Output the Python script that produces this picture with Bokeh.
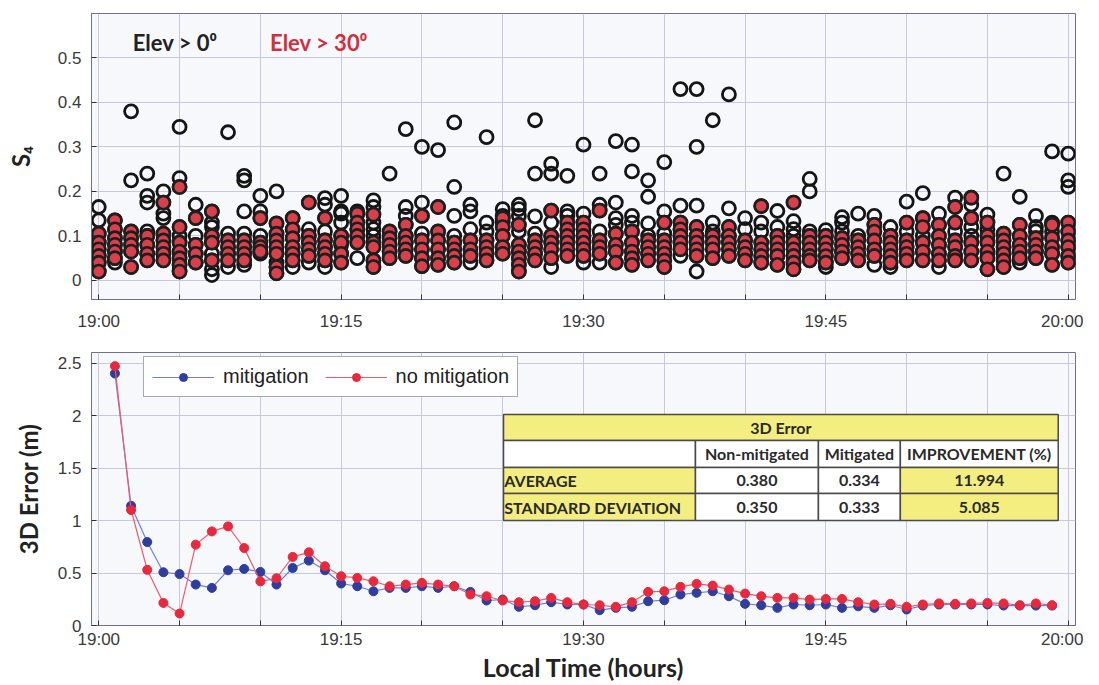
from bokeh.plotting import figure
from bokeh.models import FixedTicker, Label, Legend, LegendItem, ColumnDataSource
from bokeh.layouts import column
from bokeh.embed import file_html
from bokeh.resources import INLINE
from bokeh.core.properties import value

# ---------------- data: top panel (S4 per satellite, one column per minute) ----------------
S4_MINUTES = list(range(61))
# S4 of satellites seen only above 0 deg elevation (black open circles)
S4_ELEV0_ONLY = [
    [0.165, 0.135], [0.04], [0.38, 0.225], [0.24, 0.19, 0.175, 0.11], [0.2, 0.15, 0.14],
    [0.345, 0.23, 0.10], [0.17, 0.1], [0.13, 0.12, 0.06, 0.025, 0.012], [0.333, 0.105, 0.03],
    [0.235, 0.225, 0.155, 0.105, 0.035], [0.19, 0.155, 0.1, 0.06], [0.2, 0.04], [0.03],
    [0.115, 0.04], [0.185, 0.17, 0.11, 0.03], [0.19, 0.155, 0.15, 0.13, 0.08], [0.155, 0.05],
    [0.18, 0.165, 0.13, 0.115, 0.1], [0.24], [0.34, 0.165, 0.145], [0.3, 0.175, 0.105],
    [0.293], [0.355, 0.21, 0.145, 0.1], [0.17, 0.155, 0.115, 0.04], [0.322, 0.13, 0.11],
    [0.16, 0.145, 0.13], [0.17, 0.16, 0.145, 0.11], [0.36, 0.24, 0.144, 0.105],
    [0.262, 0.24, 0.13, 0.03], [0.235, 0.155, 0.145], [0.305, 0.15, 0.04],
    [0.24, 0.17, 0.11, 0.04], [0.313, 0.175, 0.14, 0.125], [0.305, 0.245, 0.145, 0.13],
    [0.225, 0.188, 0.128, 0.1], [0.266, 0.155, 0.105], [0.43, 0.168, 0.055],
    [0.43, 0.3, 0.168, 0.02], [0.36, 0.13, 0.11], [0.418, 0.162], [0.14, 0.115], [0.13, 0.11],
    [0.156, 0.12], [0.133, 0.115, 0.1], [0.228, 0.2, 0.11], [0.113, 0.03], [0.142, 0.13, 0.11],
    [0.15, 0.1], [0.145, 0.035], [0.12, 0.03], [0.177, 0.11], [0.196, 0.1], [0.15, 0.03],
    [0.186, 0.11], [0.17, 0.12, 0.1], [0.148, 0.115], [0.24], [0.188, 0.04],
    [0.145, 0.12, 0.11], [0.29, 0.13, 0.11], [0.285, 0.225, 0.21],
]
# S4 of satellites above 30 deg elevation (red filled circles)
S4_ELEV30 = [
    [0.105, 0.085, 0.07, 0.055, 0.04, 0.02], [0.135, 0.115, 0.095, 0.08, 0.065, 0.05],
    [0.11, 0.095, 0.08, 0.065, 0.03], [0.1, 0.08, 0.06, 0.045],
    [0.175, 0.105, 0.09, 0.075, 0.06, 0.045], [0.21, 0.12, 0.085, 0.065, 0.05, 0.035, 0.02],
    [0.14, 0.08, 0.06, 0.04], [0.155, 0.1, 0.085, 0.045], [0.09, 0.075, 0.06, 0.045],
    [0.09, 0.075, 0.06, 0.045], [0.14, 0.085, 0.075, 0.065],
    [0.128, 0.105, 0.09, 0.075, 0.06, 0.03, 0.016], [0.14, 0.115, 0.095, 0.075, 0.06, 0.045],
    [0.175, 0.1, 0.085, 0.07, 0.055], [0.14, 0.09, 0.075, 0.06, 0.045], [0.1, 0.085, 0.06, 0.04],
    [0.15, 0.13, 0.115, 0.1, 0.085], [0.148, 0.085, 0.075, 0.045, 0.03],
    [0.11, 0.095, 0.08, 0.065, 0.05], [0.125, 0.1, 0.085, 0.07, 0.055],
    [0.145, 0.09, 0.07, 0.05, 0.032], [0.165, 0.11, 0.09, 0.07, 0.05, 0.035],
    [0.085, 0.07, 0.055, 0.04], [0.09, 0.07, 0.055], [0.09, 0.075, 0.06, 0.045],
    [0.14, 0.12, 0.1, 0.075, 0.06], [0.125, 0.08, 0.065, 0.05, 0.035, 0.02],
    [0.09, 0.075, 0.06, 0.045], [0.157, 0.1, 0.085, 0.07, 0.05],
    [0.13, 0.115, 0.1, 0.085, 0.07, 0.055], [0.13, 0.115, 0.1, 0.085, 0.07, 0.055],
    [0.157, 0.09, 0.075, 0.06], [0.105, 0.08, 0.065, 0.04], [0.11, 0.085, 0.065, 0.05, 0.035],
    [0.09, 0.075, 0.06, 0.045], [0.13, 0.09, 0.075, 0.06, 0.045, 0.03],
    [0.13, 0.115, 0.1, 0.085, 0.07], [0.12, 0.1, 0.085, 0.07, 0.055], [0.1, 0.085, 0.07, 0.05],
    [0.12, 0.1, 0.085, 0.07, 0.055], [0.09, 0.075, 0.06, 0.045], [0.167, 0.085, 0.07, 0.055, 0.04],
    [0.1, 0.085, 0.07, 0.055, 0.035], [0.175, 0.085, 0.07, 0.055, 0.04, 0.025],
    [0.1, 0.085, 0.07, 0.055, 0.045], [0.1, 0.085, 0.07, 0.055, 0.04], [0.095, 0.08, 0.065, 0.05],
    [0.09, 0.075, 0.06, 0.045], [0.125, 0.11, 0.09, 0.07, 0.055], [0.1, 0.085, 0.07, 0.055, 0.04],
    [0.13, 0.09, 0.075, 0.06, 0.045], [0.14, 0.12, 0.085, 0.065, 0.045],
    [0.125, 0.1, 0.08, 0.06, 0.045], [0.165, 0.13, 0.09, 0.075, 0.055, 0.045],
    [0.186, 0.14, 0.085, 0.065, 0.045], [0.13, 0.1, 0.085, 0.065, 0.05, 0.025],
    [0.105, 0.09, 0.075, 0.06, 0.045, 0.03], [0.125, 0.1, 0.08, 0.065, 0.05],
    [0.095, 0.08, 0.065, 0.05], [0.125, 0.095, 0.075, 0.06, 0.035],
    [0.13, 0.11, 0.09, 0.075, 0.055, 0.04],
]

# ---------------- data: bottom panel (3D error, one point per minute) ----------------
ERR_MINUTES = list(range(1, 60))
ERR_MITIGATION = [
    2.40, 1.14, 0.795, 0.507, 0.49, 0.39, 0.358, 0.526, 0.539, 0.51,
    0.39, 0.548, 0.618, 0.526, 0.40, 0.374, 0.326, 0.358, 0.358, 0.374,
    0.358, 0.374, 0.32, 0.238, 0.247, 0.178, 0.193, 0.222, 0.20, 0.20,
    0.146, 0.168, 0.178, 0.231, 0.241, 0.295, 0.311, 0.326, 0.279, 0.206,
    0.193, 0.168, 0.20, 0.193, 0.20, 0.168, 0.183, 0.168, 0.193, 0.152,
    0.19, 0.20, 0.20, 0.20, 0.20, 0.19, 0.19, 0.19, 0.19,
]
ERR_NO_MITIGATION = [
    2.47, 1.10, 0.53, 0.215, 0.114, 0.77, 0.896, 0.944, 0.738, 0.42,
    0.45, 0.653, 0.697, 0.564, 0.469, 0.453, 0.421, 0.374, 0.39, 0.406,
    0.39, 0.374, 0.295, 0.279, 0.238, 0.222, 0.231, 0.263, 0.222, 0.20,
    0.193, 0.178, 0.222, 0.32, 0.326, 0.368, 0.396, 0.38, 0.342, 0.304,
    0.279, 0.263, 0.263, 0.247, 0.253, 0.253, 0.222, 0.20, 0.206, 0.178,
    0.20, 0.21, 0.206, 0.21, 0.215, 0.21, 0.193, 0.21, 0.193,
]

TIME_TICKS = [0, 5, 10, 15, 20, 25, 30, 35, 40, 45, 50, 55, 60]
TIME_LABELS = {0: "19:00", 15: "19:15", 30: "19:30", 45: "19:45", 60: "20:00"}
S4_TICKS = [0, 0.1, 0.2, 0.3, 0.4, 0.5]
S4_LABELS = ["0", "0.1", "0.2", "0.3", "0.4", "0.5"]
ERR_TICKS = [0, 0.5, 1, 1.5, 2, 2.5]
ERR_LABELS = ["0", "0.5", "1", "1.5", "2", "2.5"]

TABLE_TITLE = "3D Error"
TABLE_HEADERS = ["Non-mitigated", "Mitigated", "IMPROVEMENT (%)"]
TABLE_ROWS = ["AVERAGE", "STANDARD DEVIATION"]
TABLE_NON_MITIGATED = ["0.380", "0.350"]
TABLE_MITIGATED = ["0.334", "0.333"]
TABLE_IMPROVEMENT = ["11.994", "5.085"]

# ---------------- styling ----------------
TICK_FONT = "Liberation Sans"
TITLE_FONT = "Lato"
GRID = "#c6c8de"
FRAME = "#70708a"
BG = "#f7f8fb"
RED = "#d8404b"
YELLOW = "#f4ee80"
X_PAD = 0.45


def style(p, xticks, xlabels, yticks, ylabels):
    p.background_fill_color = BG
    p.border_fill_color = "#ffffff"
    p.outline_line_color = FRAME
    p.outline_line_width = 1
    p.xaxis.ticker = FixedTicker(ticks=xticks)
    p.xaxis.major_label_overrides = {t: xlabels.get(t, "") for t in xticks}
    p.yaxis.ticker = FixedTicker(ticks=yticks)
    p.yaxis.major_label_overrides = dict(zip(yticks, ylabels))
    for ax in (p.xaxis, p.yaxis):
        ax.major_tick_in = 5
        ax.major_tick_out = 0
        ax.minor_tick_line_color = None
        ax.axis_line_color = FRAME
        ax.major_tick_line_color = "#333333"
        ax.major_label_text_font = TICK_FONT
        ax.major_label_text_font_size = "17px"
        ax.major_label_text_color = "#3a3a3a"
    p.grid.grid_line_color = GRID
    p.grid.grid_line_width = 1


# ---------------- top panel ----------------
p1 = figure(frame_width=984, frame_height=286, x_range=(-X_PAD, 60 + X_PAD), y_range=(-0.043, 0.6),
            output_backend="svg", toolbar_location=None,
            min_border_left=91, min_border_right=8, min_border_top=13, min_border_bottom=38)
style(p1, TIME_TICKS, TIME_LABELS, S4_TICKS, S4_LABELS)
p1.xaxis.major_label_standoff = 12
p1.yaxis.major_label_standoff = 10
p1.yaxis.axis_label = "S\u2084"
p1.yaxis.axis_label_text_font = TITLE_FONT
p1.yaxis.axis_label_text_font_style = "bold"
p1.yaxis.axis_label_text_font_size = "24px"
p1.yaxis.axis_label_text_color = "#222222"
p1.yaxis.axis_label_standoff = 20

bx, by, rx, ry = [], [], [], []
for m, extra, high in zip(S4_MINUTES, S4_ELEV0_ONLY, S4_ELEV30):
    for v in extra + high:
        bx.append(m); by.append(v)
    for v in high:
        rx.append(m); ry.append(v)

p1.scatter(bx, by, marker="circle", size=13, fill_color=None, line_color="#151515", line_width=2.8)
p1.scatter(rx, ry, marker="circle", size=13, fill_color=RED, line_color="#1e1e1e", line_width=2.6)

p1.add_layout(Label(x=2.1, y=0.505, text="Elev > 0\u2070", text_font=TITLE_FONT, text_font_style="bold",
                    text_font_size="22px", text_color="#222222"))
p1.add_layout(Label(x=10.6, y=0.505, text="Elev > 30\u2070", text_font=TITLE_FONT, text_font_style="bold",
                    text_font_size="22px", text_color="#d0303e"))

# ---------------- bottom panel ----------------
p2 = figure(frame_width=984, frame_height=273, x_range=(-X_PAD, 60 + X_PAD), y_range=(0, 2.6),
            output_backend="svg", toolbar_location=None,
            min_border_left=91, min_border_right=8, min_border_top=15, min_border_bottom=50)
style(p2, TIME_TICKS, TIME_LABELS, ERR_TICKS, ERR_LABELS)
p2.xaxis.major_label_standoff = 4
p2.yaxis.major_label_standoff = 10
p2.xaxis.axis_label = "Local Time (hours)"
p2.yaxis.axis_label = "3D Error (m)"
for ax in (p2.xaxis, p2.yaxis):
    ax.axis_label_text_font = TITLE_FONT
    ax.axis_label_text_font_style = "bold"
    ax.axis_label_text_color = "#222222"
p2.xaxis.axis_label_text_font_size = "25px"
p2.yaxis.axis_label_text_font_size = "24px"
p2.xaxis.axis_label_standoff = 0
p2.yaxis.axis_label_standoff = 12

l1 = p2.line(ERR_MINUTES, ERR_MITIGATION, line_color="#6f7fd8", line_width=1.2)
s1 = p2.scatter(ERR_MINUTES, ERR_MITIGATION, marker="circle", size=9, fill_color="#2f3d9e", line_color="#2f3d9e")
l2 = p2.line(ERR_MINUTES, ERR_NO_MITIGATION, line_color="#f05a68", line_width=1.2)
s2 = p2.scatter(ERR_MINUTES, ERR_NO_MITIGATION, marker="circle", size=9, fill_color="#e8283c", line_color="#e8283c")

legend = Legend(items=[LegendItem(label="mitigation", renderers=[l1, s1]),
                       LegendItem(label="no mitigation", renderers=[l2, s2])],
                orientation="horizontal", location=(52, 228),
                label_text_font=TICK_FONT, label_text_font_size="20px", label_text_color="#222222",
                glyph_width=62, glyph_height=20, label_standoff=9, spacing=16, padding=8, margin=0,
                border_line_color="#555555", border_line_width=1,
                background_fill_color="#ffffff", background_fill_alpha=1.0)
p2.add_layout(legend)

# table (annotation layout in data coordinates of the lower panel)
XE = [25.05, 36.93, 44.54, 49.61, 59.38]   # column edges (minutes)
YE = [2.01, 1.762, 1.505, 1.257, 1.0]      # row edges (metres)
ql, qr, qt, qb, qc = [], [], [], [], []
ql.append(XE[0]); qr.append(XE[4]); qt.append(YE[0]); qb.append(YE[1]); qc.append(YELLOW)
for c in range(4):
    ql.append(XE[c]); qr.append(XE[c + 1]); qt.append(YE[1]); qb.append(YE[2]); qc.append("#ffffff")
for r in range(2):
    for c in range(4):
        ql.append(XE[c]); qr.append(XE[c + 1]); qt.append(YE[2 + r]); qb.append(YE[3 + r])
        qc.append(YELLOW if c in (0, 3) else "#ffffff")
p2.quad(left=ql, right=qr, top=qt, bottom=qb, fill_color=qc, line_color="#4a4a4a", line_width=1.5)

tx, ty, tt, ta = [], [], [], []
tx.append((XE[0] + XE[4]) / 2); ty.append((YE[0] + YE[1]) / 2); tt.append(TABLE_TITLE); ta.append("center")
for c, h in enumerate(TABLE_HEADERS):
    tx.append((XE[c + 1] + XE[c + 2]) / 2); ty.append((YE[1] + YE[2]) / 2); tt.append(h); ta.append("center")
for r in range(2):
    yc = (YE[2 + r] + YE[3 + r]) / 2
    tx.append(XE[0] + 0.05); ty.append(yc); tt.append(TABLE_ROWS[r]); ta.append("left")
    for c, vals in enumerate([TABLE_NON_MITIGATED, TABLE_MITIGATED, TABLE_IMPROVEMENT]):
        tx.append((XE[c + 1] + XE[c + 2]) / 2); ty.append(yc); tt.append(vals[r]); ta.append("center")
src = ColumnDataSource(dict(x=tx, y=ty, t=tt, a=ta))
p2.text(x="x", y="y", text="t", text_align="a", text_baseline="middle", source=src,
        text_font=value(TITLE_FONT), text_font_style="bold", text_font_size="16px", text_color="#2a2a2a")

layout = column(p1, p2, spacing=0)
open("out.html", "w").write(file_html(layout, INLINE))
